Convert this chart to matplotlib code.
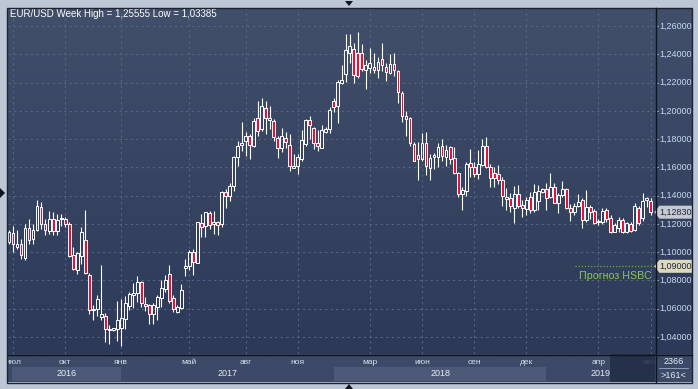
import matplotlib
matplotlib.use("Agg")
import matplotlib.pyplot as plt
import matplotlib.patches as mpatches
import matplotlib.transforms as mtransforms
from matplotlib.colors import LinearSegmentedColormap
import numpy as np

# weekly EUR/USD bars (161 bars)
opens = [1.1071, 1.1134, 1.1035, 1.1055, 1.0960, 1.1172, 1.1094, 1.1158, 1.1318, 1.1196,
         1.1153, 1.1235, 1.1153, 1.1235, 1.1235, 1.1200, 1.0977, 1.0876, 1.0970, 1.1087,
         1.0841, 1.0589, 1.0600, 1.0538, 1.0547, 1.0447, 1.0449, 1.0454, 1.0467, 1.0530,
         1.0620, 1.0697, 1.0714, 1.0789, 1.0632, 1.0624, 1.0561, 1.0613, 1.0678, 1.0742,
         1.0847, 1.0674, 1.0578, 1.0608, 1.0885, 1.0899, 1.0998, 1.0925, 1.1207, 1.1188,
         1.1278, 1.1200, 1.1210, 1.1200, 1.1424, 1.1395, 1.1466, 1.1671, 1.1758, 1.1784,
         1.1819, 1.1748, 1.1946, 1.1871, 1.2019, 1.1936, 1.1925, 1.1807, 1.1734, 1.1807,
         1.1760, 1.1598, 1.1612, 1.1659, 1.1765, 1.1936, 1.1875, 1.1772, 1.1739, 1.1847,
         1.1871, 1.2071, 1.2031, 1.2200, 1.2259, 1.2412, 1.2435, 1.2407, 1.2412, 1.2287,
         1.2306, 1.2311, 1.2287, 1.2365, 1.2313, 1.2271, 1.2334, 1.2282, 1.2129, 1.1965,
         1.1948, 1.1765, 1.1687, 1.1659, 1.1772, 1.1593, 1.1671, 1.1671, 1.1753, 1.1675,
         1.1741, 1.1664, 1.1560, 1.1412, 1.1435, 1.1631, 1.1600, 1.1553, 1.1619, 1.1753,
         1.1605, 1.1560, 1.1553, 1.1511, 1.1374, 1.1386, 1.1311, 1.1409, 1.1334, 1.1306,
         1.1393, 1.1296, 1.1362, 1.1428, 1.1447, 1.1393, 1.1464, 1.1351, 1.1405, 1.1447,
         1.1315, 1.1282, 1.1329, 1.1372, 1.1228, 1.1322, 1.1292, 1.1212, 1.1212, 1.1301,
         1.1245, 1.1146, 1.1169, 1.1228, 1.1146, 1.1200, 1.1158, 1.1315, 1.1240, 1.1369,
         1.1365]
highs = [1.1160, 1.1188, 1.1160, 1.1094, 1.1200, 1.1235, 1.1200, 1.1372, 1.1353, 1.1235,
         1.1289, 1.1282, 1.1270, 1.1270, 1.1247, 1.1212, 1.1035, 1.1000, 1.1177, 1.1299,
         1.0850, 1.0624, 1.0694, 1.0912, 1.0570, 1.0482, 1.0463, 1.0655, 1.0670, 1.0687,
         1.0718, 1.0783, 1.0829, 1.0796, 1.0682, 1.0636, 1.0641, 1.0694, 1.0800, 1.0836,
         1.0906, 1.0694, 1.0624, 1.0777, 1.0953, 1.1012, 1.1020, 1.1216, 1.1271, 1.1287,
         1.1294, 1.1289, 1.1224, 1.1435, 1.1447, 1.1487, 1.1682, 1.1788, 1.1918, 1.1847,
         1.1835, 1.1946, 1.2071, 1.2089, 1.2071, 1.2035, 1.1941, 1.1819, 1.1878, 1.1852,
         1.1835, 1.1694, 1.1694, 1.1864, 1.1941, 1.1965, 1.1887, 1.1864, 1.1901, 1.1882,
         1.2024, 1.2089, 1.2216, 1.2325, 1.2541, 1.2541, 1.2482, 1.25555, 1.2475, 1.2358,
         1.2442, 1.2412, 1.2381, 1.2478, 1.2341, 1.2400, 1.2412, 1.2287, 1.2141, 1.2000,
         1.1953, 1.1776, 1.1776, 1.1842, 1.1852, 1.1694, 1.1699, 1.1769, 1.1800, 1.1760,
         1.1753, 1.1746, 1.1565, 1.1459, 1.1635, 1.1729, 1.1635, 1.1722, 1.1800, 1.1816,
         1.1624, 1.1600, 1.1619, 1.1529, 1.1452, 1.1416, 1.1471, 1.1475, 1.1369, 1.1393,
         1.1428, 1.1480, 1.1475, 1.1456, 1.1487, 1.1558, 1.1487, 1.1416, 1.1504, 1.1456,
         1.1339, 1.1346, 1.1409, 1.1381, 1.1440, 1.1334, 1.1306, 1.1235, 1.1315, 1.1315,
         1.1264, 1.1205, 1.1252, 1.1240, 1.1216, 1.1212, 1.1346, 1.1329, 1.1416, 1.1393,
         1.1381]
lows = [1.1060, 1.1000, 1.1020, 1.0953, 1.0946, 1.1059, 1.1059, 1.1148, 1.1165, 1.1118,
        1.1130, 1.1123, 1.1118, 1.1188, 1.1177, 1.0965, 1.0871, 1.0847, 1.0918, 1.0847,
        1.0565, 1.0518, 1.0546, 1.0518, 1.0367, 1.0353, 1.0445, 1.0372, 1.03385, 1.0459,
        1.0590, 1.0607, 1.0646, 1.0613, 1.0584, 1.0495, 1.0495, 1.0518, 1.0613, 1.0718,
        1.0641, 1.0578, 1.0570, 1.0601, 1.0829, 1.0871, 1.0838, 1.0920, 1.1106, 1.1106,
        1.1165, 1.1129, 1.1118, 1.1176, 1.1311, 1.1365, 1.1431, 1.1607, 1.1718, 1.1682,
        1.1659, 1.1741, 1.1824, 1.1859, 1.1835, 1.1871, 1.1788, 1.1666, 1.1711, 1.1734,
        1.1576, 1.1593, 1.1553, 1.1647, 1.1753, 1.1800, 1.1729, 1.1718, 1.1734, 1.1840,
        1.1840, 1.1995, 1.1911, 1.2188, 1.2205, 1.2341, 1.2200, 1.2235, 1.2282, 1.2153,
        1.2264, 1.2271, 1.2235, 1.2282, 1.2212, 1.2259, 1.2247, 1.2052, 1.1918, 1.1824,
        1.1753, 1.1642, 1.1511, 1.1647, 1.1548, 1.1511, 1.1588, 1.1600, 1.1647, 1.1612,
        1.1624, 1.1553, 1.1388, 1.1299, 1.1400, 1.1529, 1.1529, 1.1518, 1.1612, 1.1595,
        1.1459, 1.1459, 1.1482, 1.1329, 1.1299, 1.1287, 1.1205, 1.1311, 1.1252, 1.1264,
        1.1275, 1.1287, 1.1299, 1.1416, 1.1299, 1.1381, 1.1346, 1.1275, 1.1393, 1.1306,
        1.1221, 1.1264, 1.1322, 1.1169, 1.1216, 1.1235, 1.1198, 1.1193, 1.1198, 1.1216,
        1.1134, 1.1140, 1.1146, 1.1134, 1.1136, 1.1140, 1.1151, 1.1193, 1.1220, 1.1322,
        1.1264]
closes = [1.1141, 1.1055, 1.1055, 1.0977, 1.1172, 1.1087, 1.1158, 1.1330, 1.1196, 1.1158,
          1.1235, 1.1148, 1.1228, 1.1240, 1.1200, 1.0970, 1.0883, 1.0993, 1.1146, 1.0852,
          1.0589, 1.0600, 1.0667, 1.0560, 1.0453, 1.0459, 1.0461, 1.0517, 1.0535, 1.0641,
          1.0702, 1.0711, 1.0789, 1.0641, 1.0617, 1.0565, 1.0627, 1.0682, 1.0747, 1.0805,
          1.0655, 1.0596, 1.0613, 1.0730, 1.0899, 1.1000, 1.0929, 1.1212, 1.1176, 1.1282,
          1.1193, 1.1212, 1.1195, 1.1424, 1.1395, 1.1471, 1.1671, 1.1748, 1.1769, 1.1819,
          1.1758, 1.1929, 1.1859, 1.2035, 1.1948, 1.1948, 1.1812, 1.1736, 1.1819, 1.1776,
          1.1607, 1.1607, 1.1671, 1.1793, 1.1936, 1.1899, 1.1772, 1.1748, 1.1866, 1.1871,
          1.2005, 1.2024, 1.2207, 1.2216, 1.2428, 1.2459, 1.2254, 1.2247, 1.2294, 1.2325,
          1.2341, 1.2287, 1.2348, 1.2322, 1.2278, 1.2334, 1.2287, 1.2134, 1.1965, 1.1941,
          1.1772, 1.1647, 1.1659, 1.1772, 1.1612, 1.1664, 1.1687, 1.1746, 1.1682, 1.1722,
          1.1659, 1.1560, 1.1412, 1.1442, 1.1624, 1.1600, 1.1553, 1.1624, 1.1753, 1.1600,
          1.1525, 1.1525, 1.1511, 1.1395, 1.1393, 1.1329, 1.1409, 1.1329, 1.1311, 1.1369,
          1.1299, 1.1428, 1.1433, 1.1447, 1.1386, 1.1464, 1.1351, 1.1405, 1.1447, 1.1311,
          1.1282, 1.1329, 1.1358, 1.1228, 1.1322, 1.1287, 1.1205, 1.1221, 1.1294, 1.1235,
          1.1146, 1.1193, 1.1228, 1.1146, 1.1205, 1.1153, 1.1329, 1.1205, 1.1365, 1.1381,
          1.1283]

month_pos = [1, 14, 28, 45, 59, 72, 90, 103, 116, 129, 147, 160]
month_labels = ["июл", "окт", "янв", "май", "авг", "ноя", "мар", "июн", "сен", "дек", "апр", "июл"]
year_pos = [0.75, 28, 81, 134]
year_labels = ["2016", "2017", "2018", "2019"]
price_ticks = [1.04, 1.06, 1.08, 1.10, 1.12, 1.14, 1.16, 1.18, 1.20, 1.22, 1.24, 1.26]
last_price = 1.12830
hsbc_target = 1.09000
title = "EUR/USD Week High = 1,25555 Low = 1,03385"

W, H = 698, 389
plt.rcParams['font.family'] = ['Liberation Sans', 'DejaVu Sans']


def fx(px):
    return px / W


def fy(py):
    return 1 - py / H


def price_at(py):
    # 1.26 sits at pixel row 26, 1.04 at row 337
    return 1.26 - (py - 26) / 1413.6


def fmt(p):
    return ("%.5f" % p).replace(".", ",")


step = 4.01
xlim = ((8 - 9) / step, (655 - 9) / step)
ylim = (price_at(354), price_at(8))

fig = plt.figure(figsize=(W / 100, H / 100), dpi=100)
fig.patch.set_facecolor("#bcc6d4")

bg = LinearSegmentedColormap.from_list("bg", ["#414f6b", "#2c3958"])
grad = np.linspace(0, 1, 256).reshape(-1, 1)

# main chart
ax = fig.add_axes([fx(8), fy(354), (655 - 8) / W, (354 - 8) / H])
ax.imshow(grad, cmap=bg, aspect="auto", extent=[xlim[0], xlim[1], ylim[0], ylim[1]], zorder=0)
ax.set_xlim(xlim)
ax.set_ylim(ylim)
ax.axis("off")

for p in price_ticks:
    ax.axhline(p, color="#56647f", lw=0.8, ls=(0, (2, 3)), zorder=1)
for m in month_pos:
    ax.axvline(m, color="#56647f", lw=0.8, ls=(0, (2, 3)), zorder=1)

w = 0.7
for i in range(len(opens)):
    o, h, l, c = opens[i], highs[i], lows[i], closes[i]
    top, bot = max(o, c), min(o, c)
    if top - bot < 0.0003:
        top = bot + 0.0003
    ax.vlines(i, top, h, color="white", lw=0.8, zorder=3)
    ax.vlines(i, l, bot, color="white", lw=0.8, zorder=3)
    fc = "#e8103a" if c < o else "none"
    ax.add_patch(mpatches.Rectangle((i - w / 2, bot), w, top - bot, facecolor=fc,
                                    edgecolor="white", lw=0.7, zorder=4))

# HSBC target line
ax.hlines(hsbc_target, (575 - 9) / step, xlim[1], color="#6fae3c", lw=0.9, ls=(0, (1, 1.5)), zorder=2)
ax.text((652 - 9) / step, price_at(276), "Прогноз HSBC", color="#8cc850", fontsize=7.7,
        ha="right", va="center", zorder=5)

ax.text(2 / step - 0.2, price_at(14), title, color="white", fontsize=7, ha="left", va="center", zorder=5)

# right price panel
axr = fig.add_axes([fx(655), fy(354), (692 - 655) / W, (354 - 8) / H])
axr.imshow(grad, cmap=bg, aspect="auto", extent=[0, 1, ylim[0], ylim[1]], zorder=0)
axr.axis("off")
for p in price_ticks:
    axr.plot([0.02, 0.09], [p, p], color="#7c9ad0", lw=0.8, zorder=2)
    axr.text(0.11, p, fmt(p), color="#c8d8f0", fontsize=6.5, ha="left", va="center", zorder=2)
axr.set_xlim(0, 1)
axr.set_ylim(ylim)

tr = mtransforms.blended_transform_factory(axr.transAxes, axr.transData)
hh = 6.5 / 1413.6
for p, col in [(last_price, "#c6cad2"), (hsbc_target, "#ddd9bd")]:
    poly = mpatches.Polygon([(-0.02, p), (0.12, p + hh), (1.0, p + hh), (1.0, p - hh), (0.12, p - hh)],
                            closed=True, facecolor=col, edgecolor="none", transform=tr,
                            clip_on=False, zorder=5)
    axr.add_patch(poly)
    axr.text(0.13, p, fmt(p), color="#1d2840", fontsize=6.5, ha="left", va="center",
             transform=tr, zorder=6)

# bottom date panel
axb = fig.add_axes([fx(8), fy(382), (655 - 8) / W, (382 - 354) / H])
axb.set_facecolor("#3c4967")
axb.set_xlim(xlim)
axb.set_ylim(0, 1)
axb.set_xticks([])
axb.set_yticks([])
for s in axb.spines.values():
    s.set_visible(False)
band_y0, band_h = 1 / 28, 14 / 28
ends = year_pos[1:] + [xlim[1]]
for k, (a, b) in enumerate(zip(year_pos, ends)):
    col = "#4c5a78" if k % 2 == 0 else "#3c4967"
    axb.add_patch(mpatches.Rectangle((a, band_y0), b - a, band_h, facecolor=col, edgecolor="none", zorder=1))
    axb.text((a + b) / 2, band_y0 + band_h / 2, year_labels[k], color="#e6ecf6", fontsize=6.5,
             ha="center", va="center", zorder=2)
for m, lbl in zip(month_pos, month_labels):
    axb.text(m, (382 - 362) / 28, lbl, color="#d6deec", fontsize=6, ha="center", va="center",
             zorder=2, clip_on=True)
axb.add_patch(mpatches.Rectangle(((610 - 9) / step, 0), xlim[1] - (610 - 9) / step, 1,
                                 facecolor="#222c45", edgecolor="none", alpha=0.85, zorder=3))

# bottom right counter box
axc = fig.add_axes([fx(655), fy(382), (692 - 655) / W, (382 - 354) / H])
axc.set_facecolor("#3c4967")
axc.set_xlim(0, 1)
axc.set_ylim(0, 1)
axc.set_xticks([])
axc.set_yticks([])
for s in axc.spines.values():
    s.set_visible(False)
axc.text(0.5, 0.73, "2366", color="#e6ecf6", fontsize=6.5, ha="center", va="center",
         transform=axc.transAxes)
axc.text(0.5, 0.25, ">161<", color="#e6ecf6", fontsize=6.5, ha="center", va="center",
         transform=axc.transAxes)
axc.plot([0.12, 0.88], [0.5, 0.5], color="#9aa8c0", lw=0.6, transform=axc.transAxes)

# frame lines and ui arrows
def line(x0, y0, x1, y1, color="#10141e", lw=1.0):
    fig.add_artist(plt.Line2D([fx(x0), fx(x1)], [fy(y0), fy(y1)], color=color, lw=lw))

line(655.5, 8, 655.5, 382)
line(8, 354.5, 692, 354.5)
fig.add_artist(mpatches.Rectangle((fx(7.5), fy(382.5)), (692 - 7.5) / W, (382.5 - 7.5) / H,
                                  transform=fig.transFigure, facecolor="none",
                                  edgecolor="#1c2232", lw=1.0))

for pts in ([(345, 1), (353, 1), (349, 6)], [(345, 389), (353, 389), (349, 384)], [(0, 188), (0, 198), (5, 193)]):
    fig.add_artist(mpatches.Polygon([(fx(a), fy(b)) for a, b in pts], closed=True,
                                    transform=fig.transFigure, facecolor="#10141e", edgecolor="none"))

fig.savefig("out.png", dpi=100, facecolor=fig.get_facecolor())
